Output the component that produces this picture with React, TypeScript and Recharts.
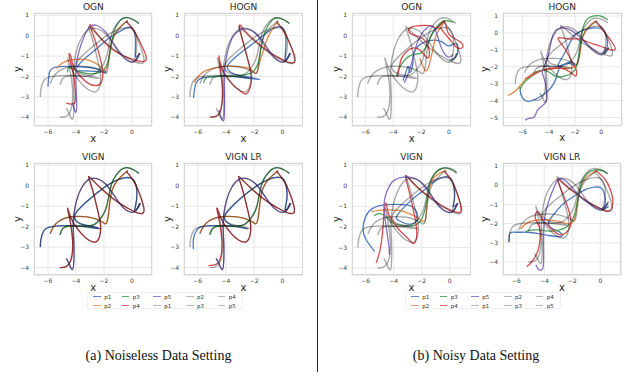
import React from 'react';
import { LineChart, Line, XAxis, YAxis, CartesianGrid } from 'recharts';

type Pt = [number, number];

// ---------- ground truth trajectories (same in every panel) ----------
const gtP1: Pt[] = [[-6.55,-3.0],[-6.5,-2.6],[-6.3,-2.2],[-5.9,-2.02],[-5.2,-1.96],[-4.4,-1.95],[-3.6,-1.98],[-2.9,-2.04],[-2.3,-2.1],[-2.9,-1.98],[-3.6,-1.88],[-4.0,-1.72],[-4.1,-1.45],[-3.7,-1.08],[-3.1,-0.7],[-2.4,-0.3],[-1.7,0.05],[-1.0,0.3],[-0.4,0.4],[0.05,0.33],[0.3,0.0],[0.35,-0.5],[0.25,-1.0],[0.2,-1.2],[0.4,-1.1],[0.6,-0.85]];
const gtP2: Pt[] = [[-5.85,-2.35],[-5.6,-2.0],[-5.2,-1.72],[-4.6,-1.55],[-3.9,-1.5],[-3.2,-1.52],[-2.6,-1.62],[-2.1,-1.78],[-1.85,-1.85],[-1.7,-1.5],[-1.6,-0.9],[-1.45,-0.3],[-1.2,0.1],[-0.85,0.4],[-0.5,0.62],[-0.3,0.75]];
const gtP3: Pt[] = [[-5.15,-2.4],[-4.95,-2.1],[-4.6,-1.98],[-4.0,-1.97],[-3.3,-1.98],[-2.7,-1.9],[-2.3,-1.65],[-1.9,-1.2],[-1.65,-0.5],[-1.45,0.1],[-1.15,0.5],[-0.75,0.8],[-0.35,0.88],[0.05,0.8],[0.35,0.68],[0.5,0.6]];
const gtP4: Pt[] = [[-5.15,-4.0],[-4.7,-3.95],[-4.4,-3.7],[-4.25,-3.2],[-4.25,-2.6],[-4.35,-2.0],[-4.5,-1.45],[-4.6,-1.1],[-4.4,-1.5],[-4.05,-1.95],[-3.6,-2.35],[-3.1,-2.65],[-2.6,-2.75],[-2.3,-2.45],[-2.25,-1.9],[-2.45,-1.2],[-2.7,-0.5],[-2.95,0.1],[-3.1,0.45],[-2.7,0.2],[-2.1,-0.2],[-1.5,-0.55],[-0.9,-0.85],[-0.3,-1.1],[0.3,-1.3],[0.75,-1.35],[0.85,-1.1],[0.6,-0.5],[0.3,0.0],[0.0,0.35],[-0.4,0.7]];
const gtP5: Pt[] = [[-4.7,-3.55],[-4.5,-3.8],[-4.25,-4.1],[-4.15,-3.6],[-4.15,-2.8],[-4.2,-2.0],[-4.15,-1.4],[-3.95,-0.7],[-3.6,-0.1],[-3.1,0.3],[-2.5,0.35],[-1.9,0.1],[-1.4,-0.35],[-0.9,-0.85],[-0.4,-1.2],[0.0,-1.3],[0.3,-1.2],[0.55,-0.85]];

// ---------- (a) noiseless: OGN ----------
const ognCleanP1: Pt[] = [[-6.0,-2.5],[-5.9,-1.8],[-5.5,-1.55],[-4.5,-1.5],[-3.5,-1.53],[-2.6,-1.6],[-1.85,-1.78],[-2.6,-1.75],[-3.5,-1.72],[-4.0,-1.65],[-3.5,-1.2],[-2.9,-0.85],[-2.3,-0.5],[-1.6,-0.1],[-0.9,0.2],[-0.3,0.4],[0.1,0.3],[0.25,-0.3],[0.25,-1.0],[0.55,-0.85]];
const ognCleanP2: Pt[] = [[-5.4,-1.6],[-5.0,-1.35],[-4.4,-1.2],[-3.6,-1.15],[-2.9,-1.25],[-2.3,-1.5],[-1.9,-1.7],[-1.7,-1.3],[-1.55,-0.6],[-1.3,-0.05],[-0.95,0.35],[-0.55,0.62],[-0.3,0.75]];
const ognCleanP3: Pt[] = [[-4.6,-1.8],[-4.5,-1.55],[-4.0,-1.7],[-3.3,-1.85],[-2.6,-1.85],[-2.0,-1.65],[-1.65,-1.1],[-1.45,-0.3],[-1.2,0.35],[-0.85,0.75],[-0.4,0.9],[0.1,0.78],[0.5,0.6]];
const ognCleanP4: Pt[] = [[-4.7,-3.3],[-4.1,-3.3],[-4.05,-2.7],[-4.15,-2.0],[-4.35,-1.4],[-4.5,-0.9],[-4.35,-1.05],[-4.2,-1.5],[-3.8,-1.9],[-3.2,-2.3],[-2.6,-2.45],[-2.2,-2.3],[-2.1,-1.7],[-2.35,-0.9],[-2.7,-0.1],[-3.0,0.55],[-2.4,0.0],[-1.7,-0.5],[-1.0,-0.85],[-0.2,-1.1],[0.5,-1.25],[1.0,-1.2],[0.9,-0.8],[0.5,-0.2],[0.1,0.3],[-0.4,0.7]];
const ognCleanP5: Pt[] = [[-4.25,-3.3],[-4.0,-3.75],[-3.95,-3.2],[-4.0,-2.4],[-4.0,-1.6],[-3.8,-0.8],[-3.4,0.0],[-3.0,0.45],[-2.5,0.5],[-1.9,0.2],[-1.3,-0.4],[-0.7,-0.95],[-0.2,-1.25],[0.2,-1.25],[0.5,-0.9]];

// ---------- (a) noiseless: HOGN ----------
const hognCleanP1: Pt[] = [[-6.3,-3.05],[-6.15,-2.4],[-5.8,-2.1],[-5.2,-2.03],[-4.4,-1.99],[-3.5,-2.0],[-2.6,-2.06],[-1.6,-2.15],[-2.6,-2.0],[-3.5,-1.85],[-3.9,-1.5],[-3.4,-1.1],[-2.7,-0.7],[-2.0,-0.35],[-1.3,0.05],[-0.65,0.35],[0.0,0.4],[0.25,-0.3],[0.2,-1.2],[0.5,-0.88]];
const hognCleanP2: Pt[] = [[-6.25,-2.3],[-5.9,-1.95],[-5.4,-1.7],[-4.6,-1.55],[-3.8,-1.48],[-3.0,-1.52],[-2.3,-1.62],[-1.85,-1.83],[-1.65,-1.4],[-1.4,-0.85],[-1.15,-0.3],[-0.9,0.1],[-0.6,0.45],[-0.3,0.7]];
const hognCleanP3: Pt[] = [[-5.6,-2.3],[-5.35,-2.05],[-4.8,-2.0],[-4.0,-1.98],[-3.2,-1.98],[-2.5,-1.9],[-2.05,-1.75],[-1.7,-1.3],[-1.5,-0.6],[-1.3,0.05],[-1.05,0.45],[-0.7,0.78],[-0.35,0.88],[0.1,0.78],[0.5,0.6]];
const hognCleanP4: Pt[] = [[-5.1,-3.98],[-4.6,-3.92],[-4.35,-3.6],[-4.25,-3.0],[-4.25,-2.4],[-4.35,-1.8],[-4.5,-1.0],[-4.35,-1.45],[-4.0,-1.95],[-3.5,-2.4],[-3.0,-2.7],[-2.55,-2.85],[-2.25,-2.45],[-2.2,-1.85],[-2.45,-1.15],[-2.75,-0.4],[-3.05,0.5],[-2.6,0.2],[-2.0,-0.2],[-1.4,-0.55],[-0.8,-0.85],[-0.2,-1.1],[0.4,-1.3],[0.85,-1.3],[0.85,-0.95],[0.5,-0.35],[0.1,0.2],[-0.4,0.65]];
const hognCleanP5: Pt[] = [[-4.5,-3.65],[-4.35,-4.0],[-4.15,-4.15],[-4.1,-3.5],[-4.1,-2.7],[-4.1,-1.9],[-4.0,-1.2],[-3.75,-0.45],[-3.4,0.05],[-2.9,0.3],[-2.3,0.3],[-1.7,0.0],[-1.2,-0.45],[-0.7,-0.95],[-0.2,-1.25],[0.2,-1.25],[0.55,-0.85]];

// ---------- (a) noiseless: VIGN LR (p2, p3, p5 follow the truth) ----------
const vlrCleanP1: Pt[] = [[-6.3,-3.1],[-6.3,-2.6],[-6.05,-2.15],[-5.6,-1.98],[-4.8,-1.95],[-4.0,-1.95],[-3.2,-2.0],[-2.5,-2.1],[-3.0,-2.02],[-3.6,-1.92],[-4.0,-1.75],[-4.1,-1.5],[-3.6,-1.05],[-3.0,-0.65],[-2.3,-0.25],[-1.6,0.08],[-0.9,0.33],[-0.3,0.42],[0.1,0.3],[0.3,-0.2],[0.3,-0.7],[0.2,-1.2],[0.4,-1.1],[0.6,-0.85]];
const vlrCleanP4: Pt[] = [[-5.25,-3.9],[-4.75,-3.85],[-4.45,-3.65],[-4.3,-3.2],[-4.3,-2.6],[-4.4,-2.0],[-4.55,-1.45],[-4.65,-1.1],[-4.4,-1.5],[-4.05,-1.95],[-3.6,-2.35],[-3.1,-2.65],[-2.6,-2.75],[-2.3,-2.45],[-2.25,-1.9],[-2.45,-1.2],[-2.7,-0.5],[-2.95,0.1],[-3.1,0.45],[-2.7,0.2],[-2.1,-0.2],[-1.5,-0.55],[-0.9,-0.85],[-0.3,-1.1],[0.3,-1.3],[0.75,-1.35],[0.85,-1.1],[0.6,-0.5],[0.3,0.0],[0.0,0.35],[-0.4,0.7]];

// ---------- (b) noisy: OGN ----------
const ognNoisyP1: Pt[] = [[-3.3,-2.2],[-3.1,-1.8],[-2.9,-1.5],[-2.8,-1.8],[-2.6,-1.4],[-2.55,-0.9],[-2.2,-0.5],[-1.7,-0.3],[-1.1,-0.22],[-0.5,-0.3],[0.0,-0.5],[0.55,-0.4],[0.6,-0.9],[0.3,-1.15],[0.05,-1.2]];
const ognNoisyP2: Pt[] = [[-0.3,0.72],[-0.6,0.4],[-0.9,0.05],[-1.1,-0.5],[-1.3,-1.1],[-1.5,-1.6],[-1.7,-1.7],[-1.9,-1.45],[-2.1,-1.1]];
const ognNoisyP3: Pt[] = [[-3.75,-1.95],[-3.6,-1.65],[-3.3,-1.3],[-2.85,-1.0],[-2.35,-0.9],[-1.9,-0.8],[-1.5,-0.35],[-1.2,0.1],[-0.85,0.45],[-0.45,0.7],[0.0,0.72],[0.3,0.65]];
const ognNoisyP4: Pt[] = [[-3.7,-2.0],[-3.55,-1.5],[-3.4,-1.1],[-3.0,-0.75],[-2.5,-0.6],[-2.0,-0.75],[-1.7,-1.0],[-1.45,-1.05],[-1.5,-0.5],[-2.0,-0.1],[-2.6,0.05],[-2.9,0.25],[-2.6,0.45],[-1.9,0.5],[-1.3,0.48],[-0.8,0.4],[-0.35,0.7],[-0.1,0.2],[0.3,-0.1],[0.8,-0.3],[1.0,-0.55],[0.6,-0.6],[0.2,-0.3],[-0.3,0.1],[-0.6,0.4]];
const ognNoisyP5: Pt[] = [[-3.2,-2.3],[-3.0,-2.0],[-2.75,-1.5],[-2.55,-1.0],[-2.3,-0.4],[-1.95,0.1],[-1.55,0.4],[-1.15,0.45],[-0.85,0.05],[-0.6,-0.5],[-0.35,-0.85],[0.0,-1.05],[0.3,-0.9]];

// ---------- (b) noisy: HOGN ----------
const hognNoisyP1: Pt[] = [[-6.2,-3.2],[-6.1,-3.7],[-5.8,-4.0],[-5.3,-4.0],[-4.5,-3.7],[-3.9,-3.3],[-3.5,-2.8],[-3.2,-2.1],[-2.7,-1.8],[-2.2,-1.75],[-1.95,-2.0],[-2.4,-1.8],[-3.0,-1.9],[-3.3,-1.9],[-2.8,-1.2],[-2.4,-0.6],[-1.9,-0.05],[-1.2,0.2],[-0.5,0.3],[0.0,0.25],[0.35,-0.1],[0.45,-0.8],[0.2,-1.2],[0.5,-0.9]];
const hognNoisyP2: Pt[] = [[-7.1,-3.7],[-6.5,-3.4],[-6.0,-2.95],[-5.5,-2.55],[-5.0,-2.3],[-4.4,-2.2],[-3.6,-2.1],[-2.8,-2.1],[-2.2,-2.05],[-1.9,-1.9],[-1.65,-1.3],[-1.5,-0.5],[-1.25,0.05],[-0.85,0.45],[-0.4,0.7]];
const hognNoisyP3: Pt[] = [[-6.2,-3.35],[-5.9,-2.95],[-5.4,-2.6],[-4.9,-2.3],[-4.4,-2.2],[-3.9,-2.35],[-3.4,-2.6],[-2.8,-2.55],[-2.2,-2.35],[-1.85,-1.9],[-1.7,-1.2],[-1.55,-0.4],[-1.4,0.3],[-1.15,0.75],[-0.8,0.95],[-0.3,1.02],[0.1,0.95],[0.5,0.78]];
const hognNoisyP4: Pt[] = [[-5.8,-2.7],[-5.2,-2.5],[-4.6,-2.25],[-3.9,-2.1],[-3.0,-2.1],[-2.3,-2.35],[-1.95,-2.55],[-1.9,-2.2],[-2.3,-1.6],[-2.8,-0.9],[-3.3,-0.3],[-2.5,-0.35],[-1.7,-0.35],[-1.0,-0.55],[0.0,-0.8],[1.05,-1.0],[0.5,-0.2],[-0.45,0.7]];
const hognNoisyP5: Pt[] = [[-5.8,-5.15],[-5.5,-5.05],[-5.1,-4.95],[-4.85,-4.55],[-4.4,-4.25],[-4.15,-3.9],[-4.2,-3.3],[-4.35,-2.7],[-4.5,-2.3],[-4.3,-1.9],[-4.0,-1.2],[-3.75,-0.3],[-3.4,0.2],[-2.9,0.3],[-2.3,0.15],[-1.7,-0.2],[-1.1,-0.65],[-0.5,-1.05],[0.0,-1.25],[0.4,-0.85]];

// ---------- (b) noisy: VIGN ----------
const vignNoisyP1: Pt[] = [[-5.35,-3.2],[-5.95,-2.65],[-6.2,-2.1],[-6.0,-1.5],[-5.5,-1.1],[-4.5,-0.92],[-3.3,-0.92],[-2.6,-1.05],[-2.3,-1.45],[-2.5,-1.8],[-3.1,-1.85],[-3.6,-1.7],[-3.8,-1.5],[-3.2,-1.0],[-2.6,-0.6],[-2.0,-0.3],[-1.4,0.05],[-0.9,0.3],[-0.4,0.43],[0.0,0.4],[0.25,0.1],[0.35,-0.6],[0.25,-1.0],[0.6,-0.85]];
const vignNoisyP2: Pt[] = [[-5.6,-1.27],[-5.0,-1.18],[-4.3,-1.17],[-3.6,-1.2],[-2.9,-1.35],[-2.3,-1.55],[-1.8,-1.75],[-1.68,-1.3],[-1.55,-0.5],[-1.35,0.1],[-1.05,0.45],[-0.7,0.62],[-0.25,0.76]];
const vignNoisyP3: Pt[] = [[-5.4,-1.45],[-5.0,-1.35],[-4.55,-1.5],[-4.2,-1.75],[-3.7,-1.9],[-3.0,-1.95],[-2.5,-1.92],[-2.05,-1.67],[-1.7,-0.95],[-1.45,0.0],[-1.1,0.58],[-0.5,0.85],[0.1,0.82],[0.5,0.65]];
const vignNoisyP4: Pt[] = [[-5.25,-3.75],[-5.0,-3.2],[-4.85,-2.6],[-4.75,-1.9],[-4.6,-0.85],[-4.4,-1.3],[-4.1,-1.7],[-3.6,-2.15],[-3.0,-2.55],[-2.55,-2.8],[-2.35,-2.3],[-2.5,-1.5],[-2.75,-0.7],[-3.0,0.0],[-3.15,0.5],[-2.7,0.2],[-2.0,-0.25],[-1.3,-0.6],[-0.6,-0.95],[0.1,-1.2],[0.7,-1.3],[0.8,-1.0],[0.55,-0.4],[0.2,0.2],[-0.35,0.7]];
const vignNoisyP5: Pt[] = [[-4.3,-3.35],[-4.35,-2.9],[-4.45,-2.4],[-4.6,-1.7],[-4.7,-1.1],[-4.6,-0.5],[-4.3,0.0],[-3.9,0.3],[-3.3,0.42],[-2.7,0.4],[-2.1,0.2],[-1.5,-0.3],[-1.0,-0.8],[-0.5,-1.15],[0.0,-1.3],[0.3,-1.2],[0.55,-0.85]];

// ---------- (b) noisy: VIGN LR ----------
const vlrNoisyP1: Pt[] = [[-6.5,-2.95],[-6.45,-2.5],[-6.0,-2.45],[-5.2,-2.45],[-4.4,-2.52],[-3.7,-2.62],[-3.0,-2.68],[-2.7,-2.6],[-3.0,-2.4],[-3.45,-2.25],[-3.7,-1.95],[-3.3,-1.5],[-2.7,-1.0],[-2.1,-0.68],[-1.5,-0.4],[-0.9,-0.18],[-0.3,-0.08],[0.15,-0.2],[0.35,-0.7],[0.3,-1.1],[0.1,-1.3],[0.6,-1.1]];
const vlrNoisyP2: Pt[] = [[-5.7,-2.28],[-5.3,-2.0],[-4.8,-1.85],[-4.2,-1.8],[-3.5,-1.82],[-2.9,-1.9],[-2.4,-2.0],[-2.0,-1.95],[-1.8,-1.65],[-1.65,-1.0],[-1.45,-0.2],[-1.1,0.35],[-0.65,0.6],[-0.2,0.78]];
const vlrNoisyP3: Pt[] = [[-5.35,-2.45],[-5.1,-2.35],[-4.5,-2.33],[-3.8,-2.38],[-3.2,-2.38],[-2.6,-2.25],[-2.15,-2.0],[-1.8,-1.4],[-1.55,-0.5],[-1.3,0.2],[-0.95,0.6],[-0.4,0.8],[0.2,0.75],[0.55,0.6]];
const vlrNoisyP4: Pt[] = [[-5.25,-4.25],[-4.8,-3.9],[-4.45,-3.4],[-4.3,-2.8],[-4.35,-2.2],[-4.6,-1.8],[-4.6,-1.45],[-4.35,-1.45],[-4.1,-1.8],[-3.6,-2.2],[-3.0,-2.55],[-2.5,-2.5],[-2.1,-2.0],[-2.3,-1.2],[-2.7,-0.4],[-3.05,0.3],[-2.6,0.05],[-2.0,-0.3],[-1.3,-0.65],[-0.6,-1.0],[0.1,-1.25],[0.6,-1.35],[0.9,-0.9],[0.7,-0.2],[0.3,0.35],[-0.35,0.78]];
const vlrNoisyP5: Pt[] = [[-4.6,-4.15],[-4.4,-4.4],[-4.1,-4.3],[-4.05,-3.5],[-4.05,-2.6],[-3.95,-1.6],[-3.65,-0.75],[-3.3,-0.1],[-3.0,0.3],[-2.5,0.25],[-1.8,-0.3],[-1.2,-0.75],[-0.6,-1.05],[0.0,-1.25],[0.55,-0.95]];

// ---------- labels ----------
const bodyNames = ['p1', 'p2', 'p3', 'p4', 'p5'];
const xTicks = [-6, -4, -2, 0];
const yTicksA = [-4, -3, -2, -1, 0, 1];
const yTicksB = [-5, -4, -3, -2, -1, 0, 1];
const captionA = '(a) Noiseless Data Setting';
const captionB = '(b) Noisy Data Setting';

const truth = [gtP1, gtP2, gtP3, gtP4, gtP5];
const COLORS = ['#3d6cb9', '#e37b35', '#3a9a4a', '#d23b3b', '#7a62bb'];
const LEGEND_COLORS = ['#5f83c2', '#e8a075', '#5aab67', '#d76a69', '#8e80c4'];
const GRAY = '#b8b8b8';

const FONT = '"DejaVu Sans", "Liberation Sans", sans-serif';

type PanelCfg = {
  title: string;
  frame: [number, number, number, number];
  xd: [number, number];
  yd: [number, number];
  yt: number[];
  preds: Pt[][];
  yLabelX: number;
};

const panels: PanelCfg[] = [
  { title: 'OGN', frame: [34.3, 12.7, 152.3, 126], xd: [-7.0, 1.43], yd: [-4.44, 1.113], yt: yTicksA,
    preds: [ognCleanP1, ognCleanP2, ognCleanP3, ognCleanP4, ognCleanP5], yLabelX: 17.5 },
  { title: 'HOGN', frame: [184.3, 12.7, 302.7, 126], xd: [-6.97, 1.42], yd: [-4.44, 1.113], yt: yTicksA,
    preds: [hognCleanP1, hognCleanP2, hognCleanP3, hognCleanP4, hognCleanP5], yLabelX: 167.5 },
  { title: 'VIGN', frame: [34.3, 162.7, 152.3, 275.3], xd: [-7.0, 1.43], yd: [-4.39, 1.11], yt: yTicksA,
    preds: [gtP1, gtP2, gtP3, gtP4, gtP5], yLabelX: 17.5 },
  { title: 'VIGN LR', frame: [184.3, 162.7, 302.7, 275.3], xd: [-6.97, 1.42], yd: [-4.39, 1.11], yt: yTicksA,
    preds: [vlrCleanP1, gtP2, gtP3, vlrCleanP4, gtP5], yLabelX: 167.5 },
  { title: 'OGN', frame: [352.3, 12.7, 471, 126], xd: [-6.96, 1.56], yd: [-4.44, 1.113], yt: yTicksA,
    preds: [ognNoisyP1, ognNoisyP2, ognNoisyP3, ognNoisyP4, ognNoisyP5], yLabelX: 336.5 },
  { title: 'HOGN', frame: [502.7, 12.7, 621.7, 125.7], xd: [-7.49, 1.58], yd: [-5.5, 1.18], yt: yTicksB,
    preds: [hognNoisyP1, hognNoisyP2, hognNoisyP3, hognNoisyP4, hognNoisyP5], yLabelX: 485 },
  { title: 'VIGN', frame: [352.3, 162.7, 470.7, 275.3], xd: [-6.98, 1.48], yd: [-4.37, 1.11], yt: yTicksA,
    preds: [vignNoisyP1, vignNoisyP2, vignNoisyP3, vignNoisyP4, vignNoisyP5], yLabelX: 336.5 },
  { title: 'VIGN LR', frame: [502.7, 162.7, 621, 275.3], xd: [-6.95, 1.5], yd: [-4.71, 1.16], yt: yTicksA,
    preds: [vlrNoisyP1, vlrNoisyP2, vlrNoisyP3, vlrNoisyP4, vlrNoisyP5], yLabelX: 485 },
];

const toData = (pts: Pt[]) => pts.map(([x, y]) => ({ x, y }));
const fmt = (v: number) => (v < 0 ? '\u2212' + Math.abs(v) : String(v));

const YW = 26;
const XH = 14;
const MT = 6;
const MR = 6;

function Panel({ p }: { p: PanelCfg }) {
  const [l, t, r, b] = p.frame;
  const w = r - l;
  const h = b - t;
  const tickStyle = { fontSize: 6, fill: '#3a3a3a', fontFamily: FONT };
  return (
    <>
      <div style={{ position: 'absolute', left: l - YW, top: t - MT }}>
        <LineChart width={w + YW + MR} height={h + XH + MT} margin={{ top: MT, right: MR, bottom: 0, left: 0 }}>
          <CartesianGrid stroke="#e8e8e8" strokeWidth={1} />
          <XAxis type="number" dataKey="x" domain={p.xd} ticks={xTicks} allowDataOverflow interval={0}
            height={XH} tickLine={false} axisLine={false} tickSize={0} tickMargin={3.5}
            tick={tickStyle} tickFormatter={fmt} />
          <YAxis type="number" dataKey="y" domain={p.yd} ticks={p.yt} allowDataOverflow interval={0}
            width={YW} tickLine={false} axisLine={false} tickSize={0} tickMargin={5}
            tick={tickStyle} tickFormatter={fmt} />
          {p.preds.map((arr, i) => (
            <Line key={'pred' + i} data={toData(arr)} dataKey="y" type="natural" stroke={COLORS[i]}
              strokeWidth={1.3} strokeOpacity={0.9} dot={false} activeDot={false} isAnimationActive={false} />
          ))}
          {truth.map((arr, i) => (
            <Line key={'gt' + i} data={toData(arr)} dataKey="y" type="natural" stroke="#000000"
              strokeWidth={1.4} strokeOpacity={0.33} dot={false} activeDot={false} isAnimationActive={false} />
          ))}
        </LineChart>
      </div>
      <div style={{ position: 'absolute', left: l, top: t, width: w, height: h, boxSizing: 'border-box',
        border: '1px solid #d6d6d6', pointerEvents: 'none' }} />
      <div style={{ position: 'absolute', left: l, width: w, top: t - 12, height: 12, lineHeight: '12px',
        textAlign: 'center', fontFamily: FONT, fontSize: 9, color: '#262626' }}>{p.title}</div>
      <div style={{ position: 'absolute', left: l, width: w, top: b + 6.5, height: 12, lineHeight: '12px',
        textAlign: 'center', fontFamily: FONT, fontSize: 10, color: '#262626' }}>x</div>
      <div style={{ position: 'absolute', left: p.yLabelX - 20, top: (t + b) / 2 - 6, width: 40, height: 12,
        lineHeight: '12px', textAlign: 'center', fontFamily: FONT, fontSize: 10, color: '#262626',
        transform: 'rotate(-90deg)' }}>y</div>
    </>
  );
}

const legendCols = [93.3, 121.7, 153.3, 186, 217.7];
const legendRows = [296.7, 305.7];

function Legend({ dx }: { dx: number }) {
  const entries = [
    ...bodyNames.map((n, i) => ({ name: n, color: LEGEND_COLORS[i] })),
    ...bodyNames.map((n) => ({ name: n, color: GRAY })),
  ];
  return (
    <>
      <div style={{ position: 'absolute', left: 87 + dx, top: 292, width: 156, height: 17,
        boxSizing: 'border-box', border: '1px solid #f0f0f0', background: '#ffffff' }} />
      {entries.map((e, k) => {
        const col = Math.floor(k / 2);
        const row = k % 2;
        const x = legendCols[col] + dx;
        const y = legendRows[row];
        return (
          <React.Fragment key={k}>
            <div style={{ position: 'absolute', left: x, top: y - 0.75, width: 7.5, height: 1.5, background: e.color }} />
            <div style={{ position: 'absolute', left: x + 11, top: y - 4, height: 8, lineHeight: '8px',
              fontFamily: FONT, fontSize: 5.5, color: '#333333', whiteSpace: 'nowrap' }}>{e.name}</div>
          </React.Fragment>
        );
      })}
    </>
  );
}

export default function App() {
  return (
    <div style={{ position: 'absolute', left: 0, top: 0, width: 640, height: 385, background: '#ffffff', overflow: 'hidden' }}>
      {panels.map((p, i) => <Panel key={i} p={p} />)}
      <Legend dx={0} />
      <Legend dx={318} />
      <div style={{ position: 'absolute', left: 317, top: 0, width: 1, height: 372, background: '#222222' }} />
      <div style={{ position: 'absolute', left: 0, width: 317, top: 347, height: 18, lineHeight: '18px',
        textAlign: 'center', fontFamily: '"Liberation Serif", serif', fontSize: 14, color: '#111111' }}>{captionA}</div>
      <div style={{ position: 'absolute', left: 320, width: 312, top: 347, height: 18, lineHeight: '18px',
        textAlign: 'center', fontFamily: '"Liberation Serif", serif', fontSize: 14, color: '#111111' }}>{captionB}</div>
    </div>
  );
}
